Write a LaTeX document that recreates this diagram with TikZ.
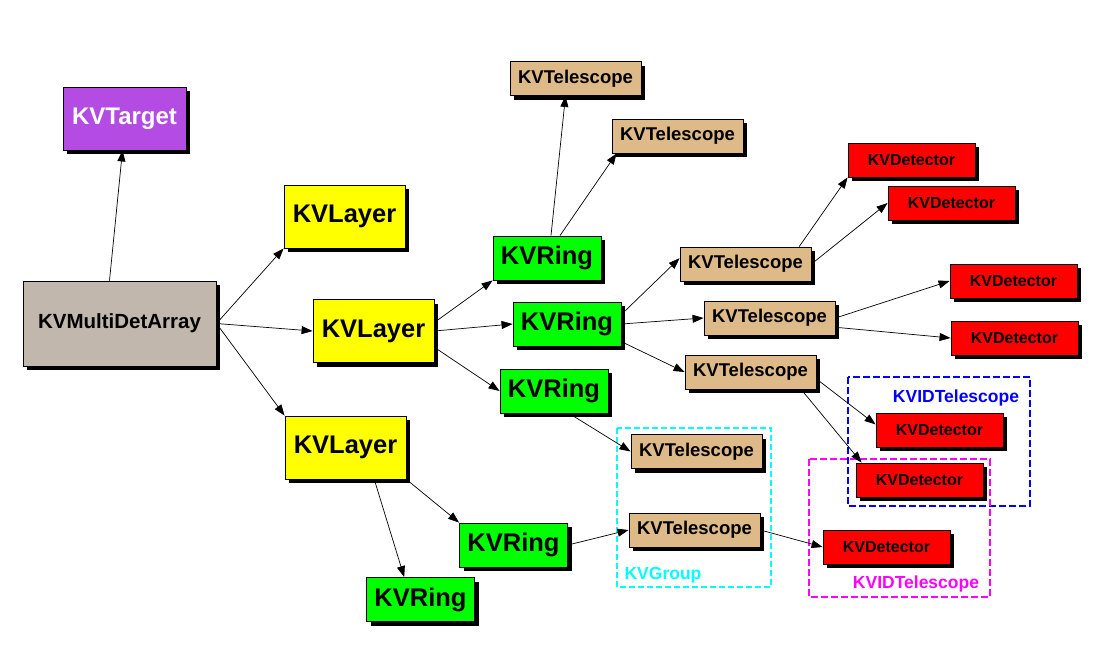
\documentclass[tikz,border=0pt]{standalone}
\usepackage{fontspec}
\setmainfont{Liberation Sans}
\usetikzlibrary{arrows.meta,shadows}

\definecolor{targetpurple}{RGB}{180,75,226}
\definecolor{arraygray}{RGB}{193,183,172}
\definecolor{layeryellow}{RGB}{255,255,0}
\definecolor{ringgreen}{RGB}{0,255,0}
\definecolor{teltan}{RGB}{222,186,136}
\definecolor{detred}{RGB}{255,0,0}
\definecolor{groupcyan}{RGB}{0,255,255}
\definecolor{groupblue}{RGB}{0,0,255}
\definecolor{groupmagenta}{RGB}{255,0,255}

\begin{document}
\begin{tikzpicture}
[
	x=1pt, y=-1pt,
	box/.style={rectangle,draw=black,line width=0.9pt,inner sep=0pt,
		drop shadow={shadow xshift=4pt,shadow yshift=-4pt,fill=black,opacity=1}},
	targetbox/.style={box,fill=targetpurple,text=white,minimum width=123pt,minimum height=63pt,
		font=\fontsize{24}{28}\selectfont\bfseries},
	arraybox/.style={box,fill=arraygray,minimum width=193pt,minimum height=85pt,
		font=\fontsize{20.5}{24}\selectfont\bfseries},
	layerbox/.style={box,fill=layeryellow,minimum width=121pt,minimum height=63pt,
		font=\fontsize{25.5}{30}\selectfont\bfseries},
	ringbox/.style={box,fill=ringgreen,minimum width=108pt,minimum height=44pt,
		font=\fontsize{25.5}{30}\selectfont\bfseries},
	telbox/.style={box,fill=teltan,minimum width=131pt,minimum height=34pt,
		font=\fontsize{18.5}{22}\selectfont\bfseries},
	detbox/.style={box,fill=detred,minimum width=127pt,minimum height=34pt,
		font=\fontsize{16}{19}\selectfont\bfseries},
	grouplabel/.style={font=\fontsize{17.5}{21}\selectfont\bfseries},
	arr/.style={-{Triangle[length=11pt,width=8pt]},line width=0.7pt}
]

	\useasboundingbox (0,0) rectangle (1101,670);

	% groups
	\draw[groupcyan,line width=1.8pt,dash pattern=on 6pt off 3pt] (617,428) rectangle (771,587);
	\draw[groupblue,line width=1.1pt,dash pattern=on 7pt off 3pt] (848,377) rectangle (1030,506);
	\draw[groupmagenta,line width=1.1pt,dash pattern=on 7pt off 3pt] (809,459) rectangle (990,597);
	\node[grouplabel,groupcyan] (kvgroup) at (663,575) {KVGroup};
	\node[grouplabel,groupblue] (idtelA) at (956,398) {KVIDTelescope};
	\node[grouplabel,groupmagenta] (idtelB) at (916,584) {KVIDTelescope};

	% array and target
	\node[targetbox] (target) at (124.5,118.5) {KVTarget};
	\node[arraybox] (mda) at (119.5,323.5) {KVMultiDetArray};

	% layers
	\node[layerbox] (layA) at (344.5,216.5) {KVLayer};
	\node[layerbox] (layB) at (373.5,331) {KVLayer};
	\node[layerbox] (layC) at (345.5,447.5) {KVLayer};

	% rings
	\node[ringbox] (ringA) at (547,258) {KVRing};
	\node[ringbox] (ringB) at (567,324) {KVRing};
	\node[ringbox] (ringC) at (554,391) {KVRing};
	\node[ringbox] (ringD) at (513.5,545) {KVRing};
	\node[ringbox] (ringE) at (420.5,599.5) {KVRing};

	% telescopes
	\node[telbox] (telA) at (575.5,78.5) {KVTelescope};
	\node[telbox] (telB) at (677.5,136) {KVTelescope};
	\node[telbox] (telC) at (745.5,264) {KVTelescope};
	\node[telbox] (telD) at (769.5,318) {KVTelescope};
	\node[telbox] (telE) at (750.5,372) {KVTelescope};
	\node[telbox] (telF) at (696.5,451.5) {KVTelescope};
	\node[telbox] (telG) at (694.5,530) {KVTelescope};

	% detectors
	\node[detbox] (detA) at (911.5,160) {KVDetector};
	\node[detbox] (detB) at (951.5,203) {KVDetector};
	\node[detbox] (detC) at (1013.5,281) {KVDetector};
	\node[detbox] (detD) at (1014.5,338) {KVDetector};
	\node[detbox] (detE) at (939.5,430) {KVDetector};
	\node[detbox] (detF) at (919.5,480) {KVDetector};
	\node[detbox] (detG) at (886.5,547) {KVDetector};

	% arrows
	\draw[arr] ([xshift=-10pt]mda.north) -- ([xshift=-2pt]target.south);
	\foreach \dst in {layA.south west,layB.west,layC.north west} {
		\draw[arr] (mda.east) -- (\dst);
	}
	\draw[arr] (layB.8) -- (ringA.south west);
	\draw[arr] (layB.east) -- (ringB.west);
	\draw[arr] (layB.-15) -- (ringC.west);
	\draw[arr] (layC.-48) -- (ringE.126);
	\draw[arr] (layC.south east) -- (ringD.north west);
	\draw[arr] ([xshift=4pt]ringA.north) -- ([xshift=-10pt]telA.south);
	\draw[arr] ([xshift=13pt]ringA.north) -- ([xshift=5pt]telB.south west);
	\draw[arr] (ringB.10) -- (telC.175);
	\draw[arr] (ringB.east) -- (telD.west);
	\draw[arr] (ringB.-18) -- (telE.west);
	\draw[arr] (ringC.-56) -- (telF.west);
	\draw[arr] (ringD.east) -- (telG.west);
	\draw[arr] (telC.18) -- (detA.south west);
	\draw[arr] (telC.east) -- (detB.west);
	\draw[arr] (telD.east) -- (detC.west);
	\draw[arr] (telD.-8) -- (detD.west);
	\draw[arr] (telE.-6) -- (detE.175);
	\draw[arr] (telE.-19) -- ([xshift=6pt]detF.north west);
	\draw[arr] (telG.east) -- (detG.west);

\end{tikzpicture}
\end{document}
